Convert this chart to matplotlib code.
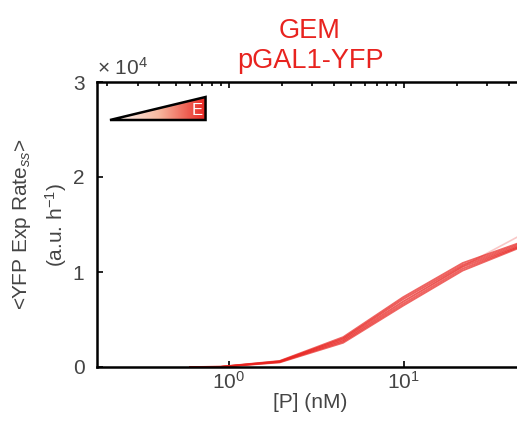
import numpy as np
import matplotlib.pyplot as plt
from matplotlib.patches import Polygon
from matplotlib.ticker import LogLocator, NullFormatter, FixedLocator

plt.rcParams['font.family'] = ['Liberation Sans', 'DejaVu Sans']
plt.rcParams['mathtext.fontset'] = 'custom'
plt.rcParams['mathtext.rm'] = 'Liberation Sans'
plt.rcParams['mathtext.it'] = 'Liberation Sans:italic'

# inducer concentration (nM) and steady-state expression rate per replicate
conc = [0.6, 0.9, 1.95, 4.5, 9.9, 21.7, 48]
rep1 = [0, 20, 560, 2840, 6870, 10560, 12900]
rep2 = [0, 30, 640, 3150, 7350, 10950, 13200]
rep3 = [0, 10, 480, 2550, 6450, 10150, 12700]
rep4 = [0, 25, 600, 3000, 7150, 10750, 13050]
rep5 = [0, 15, 520, 2700, 6650, 10350, 12800]
rep6 = [0, 20, 600, 3000, 7000, 10600, 14000]
reps = [rep1, rep2, rep3, rep4, rep5]

red = '#e8231f'
grey = '#444444'

fig = plt.figure(figsize=(5.17, 4.21), dpi=100)
ax = fig.add_axes([97/517, 54/421, 426/517, 285/421])

for r in reps:
    ax.plot(conc, np.array(r) / 1e4, color=red, lw=1.3, alpha=0.7)
ax.plot(conc, np.array(rep6) / 1e4, color=red, lw=1.2, alpha=0.25)

ax.set_xscale('log')
ax.set_xlim(0.176, 48)
ax.set_ylim(0, 3)
ax.set_yticks([0, 1, 2, 3])
ax.set_yticklabels(['0', '1', '2', '3'])
ax.xaxis.set_major_locator(FixedLocator([1, 10]))
ax.set_xticklabels(['10$^0$', '10$^1$'])
ax.xaxis.set_minor_locator(LogLocator(base=10, subs=np.arange(2, 10)))
ax.xaxis.set_minor_formatter(NullFormatter())
ax.tick_params(axis='both', which='both', direction='in', colors='black',
               labelcolor=grey, labelsize=15, width=1.2)
ax.tick_params(axis='x', which='major', length=4, pad=3, top=True)
ax.tick_params(axis='x', which='minor', length=3, bottom=False, top=True)
ax.tick_params(axis='y', length=4, right=True, pad=9)

for s in ax.spines.values():
    s.set_linewidth(1.8)
    s.set_color('black')

ax.set_xlabel('[P] (nM)', fontsize=15, color=grey, labelpad=0)
ax.set_ylabel('<YFP Exp Rate$_{ss}$>\n(a.u. h$^{-1}$)', fontsize=15,
              color=grey, linespacing=1.5, labelpad=3)
ax.text(0.0, 1.01, '× 10$^4$', transform=ax.transAxes, fontsize=15,
        color=grey, ha='left', va='bottom')
ax.set_title('GEM\npGAL1-YFP', color=red, fontsize=19.5, fontweight='normal',
             linespacing=1.2, pad=10)

# gradient wedge marker in the upper-left corner
wax = fig.add_axes([110/517, (421-121)/421, 97/517, 25/421])
wax.set_xlim(0, 1)
wax.set_ylim(0, 1)
wax.axis('off')
grad = np.linspace(0, 1, 256)[None, :]
cmap = plt.matplotlib.colors.LinearSegmentedColormap.from_list('w2r', ['white', '#f7b9a0', red])
tri_pts = [[0, 0.04], [0.985, 0.04], [0.985, 0.96]]
tri = Polygon(tri_pts, closed=True, transform=wax.transData, facecolor='none')
im = wax.imshow(grad, cmap=cmap, extent=[0, 1, 0, 1], aspect='auto')
im.set_clip_path(tri)
wax.add_patch(Polygon(tri_pts, closed=True, facecolor='none',
                      edgecolor='black', lw=1.8, clip_on=False))
wax.text(0.9, 0.42, 'E', color='white', fontsize=12, ha='center', va='center')

fig.savefig('out.png', dpi=100)
